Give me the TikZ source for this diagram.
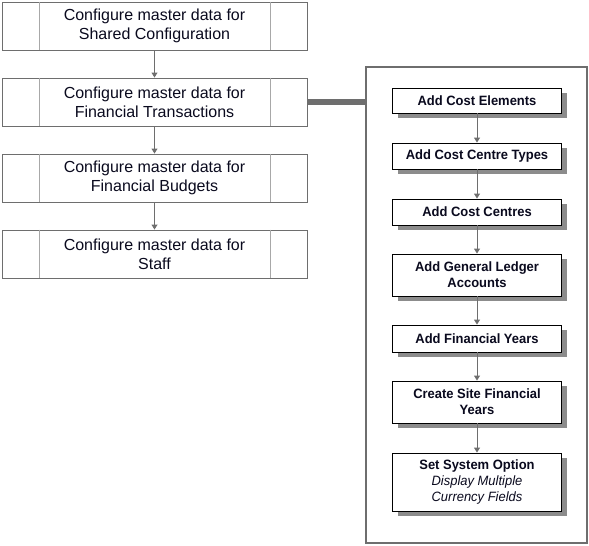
\documentclass[tikz,border=0pt]{standalone}
\usepackage{fontspec}
\setmainfont{Liberation Sans}
\newfontfamily\rightfont[FakeStretch=0.96]{Liberation Sans}
\usetikzlibrary{arrows.meta,shadows}
\definecolor{lineg}{HTML}{6E6E6E}
\definecolor{divg}{HTML}{A8A8A8}
\definecolor{shadg}{HTML}{8C8C8C}
\definecolor{txt}{HTML}{0A0A1E}
\tikzset{
  mainbox/.style={draw=lineg, line width=0.9pt, fill=white, minimum width=305pt, minimum height=48pt, inner sep=0pt, align=center, text=txt, font=\fontsize{16}{19}\selectfont},
  divider/.style={draw=divg, line width=0.9pt},
  stepbox/.style={draw=black, line width=0.9pt, fill=white, minimum width=169pt, inner sep=0pt, align=center, text=txt, font=\rightfont\fontsize{13.5}{16}\selectfont\bfseries,
    drop shadow={shadow xshift=5pt, shadow yshift=-5pt, fill=shadg, opacity=1}},
  flow/.style={draw=lineg, line width=0.9pt, -{Triangle[width=6pt,length=5pt]}},
  container/.style={draw=lineg, line width=2pt, minimum width=221pt, minimum height=476pt, inner sep=0pt},
  thick link/.style={draw=lineg, line width=6pt}
}
\begin{document}
\begin{tikzpicture}[x=1pt,y=-1pt]
\useasboundingbox (0,0) rectangle (589,546);
% left column
\node[mainbox] (b1) at (154.5,26) {Configure master data for\\Shared Configuration};
\node[mainbox] (b2) at (154.5,102) {Configure master data for\\Financial Transactions};
\node[mainbox] (b3) at (154.5,178) {Configure master data for\\Financial Budgets};
\node[mainbox] (b4) at (154.5,254) {Configure master data for\\Staff};
\foreach \b in {b1,b2,b3,b4}{
  \draw[divider] ([xshift=38pt]\b.north west) -- ([xshift=38pt]\b.south west);
  \draw[divider] ([xshift=-37pt]\b.north east) -- ([xshift=-37pt]\b.south east);
}
\draw[flow] (b1) -- (b2);
\draw[flow] (b2) -- (b3);
\draw[flow] (b3) -- (b4);
% container
\node[container] (cont) at (476.5,305) {};
\draw[thick link] (b2.east) -- (b2.east -| cont.west);
% right column
\node[stepbox, minimum height=25pt] (s1) at (477,100.5) {Add Cost Elements};
\node[stepbox, minimum height=26pt] (s2) at (477,156) {Add Cost Centre Types};
\node[stepbox, minimum height=26pt] (s3) at (477,212) {Add Cost Centres};
\node[stepbox, minimum height=42pt] (s4) at (477,275) {Add General Ledger\\Accounts};
\node[stepbox, minimum height=27pt] (s5) at (477,338.5) {Add Financial Years};
\node[stepbox, minimum height=42pt] (s6) at (477,402) {Create Site Financial\\Years};
\node[stepbox, minimum height=58pt] (s7) at (477,482) {Set System Option\\{\mdseries\itshape Display Multiple}\\{\mdseries\itshape Currency Fields}};
\draw[flow] (s1) -- (s2);
\draw[flow] (s2) -- (s3);
\draw[flow] (s3) -- (s4);
\draw[flow] (s4) -- (s5);
\draw[flow] (s5) -- (s6);
\draw[flow] (s6) -- (s7);
\end{tikzpicture}
\end{document}
